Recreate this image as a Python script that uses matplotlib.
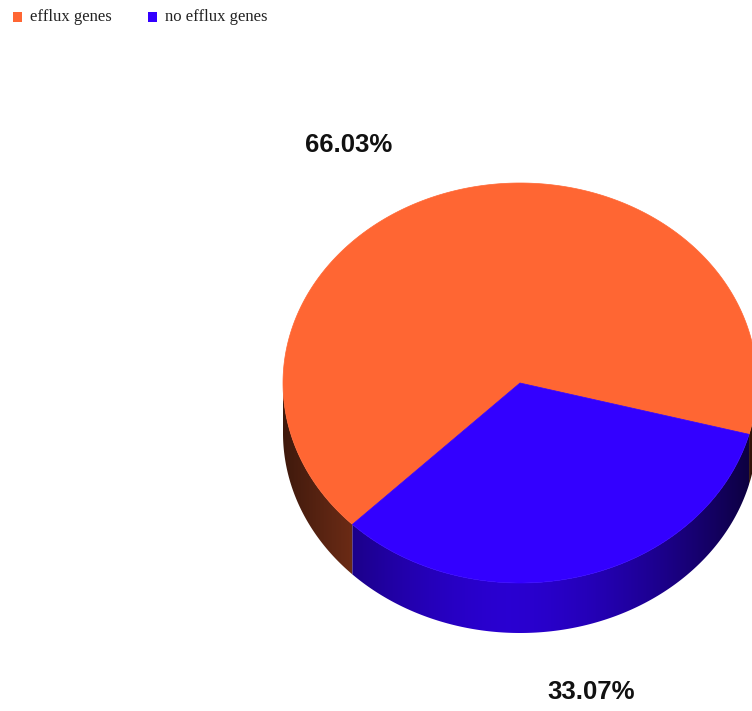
"""3D-style pie: share of isolates with / without efflux genes."""

import numpy as np
import matplotlib
matplotlib.use("Agg")
import matplotlib.pyplot as plt
from matplotlib.patches import Polygon, Rectangle
from matplotlib.colors import to_rgb

# ── data ──────────────────────────────────────────────────────────────────────
labels = ["efflux genes", "no efflux genes"]
values = [66.03, 33.07]
colors = ["#FF6633", "#3300FF"]
pct_text = ["66.03%", "33.07%"]

# ── layout (pixels) ───────────────────────────────────────────────────────────
W, H = 752, 711
CX, CY = 520, 383        # centre of top face
RX, RY = 237, 200        # ellipse radii
DEPTH = 50               # thickness of the pie
START = -135.0           # angle where the second slice starts (deg, ccw)

fig = plt.figure(figsize=(W / 100, H / 100), dpi=100)
ax = fig.add_axes([0, 0, 1, 1])
ax.set_xlim(0, W)
ax.set_ylim(H, 0)
ax.axis("off")


def ell(t_deg, dy=0.0):
    t = np.radians(t_deg)
    return CX + RX * np.cos(t), CY - RY * np.sin(t) + dy


# slice angle ranges: second slice goes ccw from START, first covers the rest
frac = np.array(values) / sum(values)
span = frac * 360
ranges = [(START + span[1], START + 360), (START, START + span[1])]


def shade(x):
    # cylinder-ish lighting on the side wall, brightest a bit left of centre
    u = (x - CX) / RX
    return np.clip(0.82 - 0.55 * np.abs(u + 0.05) ** 1.6, 0.2, 1)


# side walls (only the front half, 180..360 deg, is visible)
for (a0, a1), col in zip(ranges, colors):
    segs = [(max(a0, 180), min(a1, 360)), (max(a0 - 360, 180), min(a1 - 360, 360)),
            (max(a0 + 360, 180), min(a1 + 360, 360))]
    for s0, s1 in segs:
        if s1 <= s0:
            continue
        t = np.linspace(s0, s1, 200)
        xt, yt = ell(t)
        xb, yb = ell(t[::-1], DEPTH)
        poly = Polygon(np.column_stack([np.r_[xt, xb], np.r_[yt, yb]]),
                       closed=True, facecolor="none", edgecolor="none")
        ax.add_patch(poly)
        xs = np.linspace(xt.min(), xt.max(), 300)
        base = np.array(to_rgb(col))
        k = shade(xs)
        if col == colors[0]:
            k = k * 0.78
        img = (base[None, :] * k[:, None])[None, :, :]
        im = ax.imshow(img, extent=[xt.min(), xt.max(), yb.max() + 2, yt.min()],
                       aspect="auto", interpolation="bilinear", zorder=1)
        im.set_clip_path(poly)

# top face
for (a0, a1), col in zip(ranges, colors):
    t = np.linspace(a0, a1, 400)
    x, y = ell(t)
    pts = np.column_stack([np.r_[CX, x], np.r_[CY, y]])
    ax.add_patch(Polygon(pts, closed=True, facecolor=col, edgecolor=col,
                         linewidth=0.5, zorder=2))

# percentage labels
lab_font = ["Liberation Sans Narrow", "Liberation Sans", "DejaVu Sans"]
ax.text(349, 145, pct_text[0], ha="center", va="center", fontsize=18.5,
        fontweight="bold", color="#111111", family=lab_font)
ax.text(591, 692, pct_text[1], ha="center", va="center", fontsize=18.5,
        fontweight="bold", color="#111111", family=lab_font)

# legend
for i, (lab, col) in enumerate(zip(labels, colors)):
    x0 = 13 + i * 135
    ax.add_patch(Rectangle((x0, 12), 9, 10, facecolor=col, edgecolor="none"))
    ax.text(x0 + 17, 17, lab, ha="left", va="center", fontsize=12,
            color="#222222", family=["Liberation Serif", "DejaVu Serif"])

fig.savefig("out.png", dpi=100)
